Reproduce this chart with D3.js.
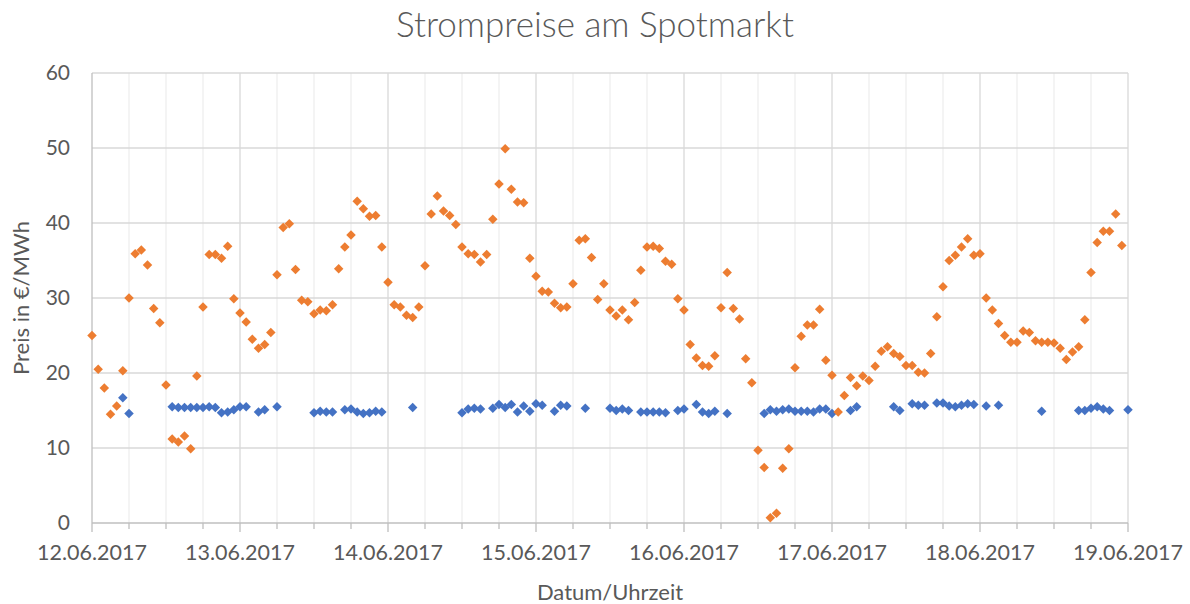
<!DOCTYPE html>
<html>
<head>
<meta charset="utf-8">
<script src="https://cdn.jsdelivr.net/npm/d3@7"></script>
<style>
  body { margin: 0; background: #fff; }
  text { font-family: Lato, "Open Sans", sans-serif; fill: #595959; }
</style>
</head>
<body>
<div id="chart"></div>
<script>
// hourly spot prices from 12.06.2017 00:00 (EUR/MWh)
const orangePrices = [
  25.0, 20.5, 18.0, 14.5, 15.6, 20.3, 30.0, 35.9, 36.4, 34.4, 28.6, 26.7,
  18.4, 11.2, 10.8, 11.6, 9.9, 19.6, 28.8, 35.8, 35.8, 35.3, 36.9, 29.9,
  28.0, 26.8, 24.5, 23.3, 23.8, 25.4, 33.1, 39.4, 39.9, 33.8, 29.7, 29.5,
  27.9, 28.4, 28.3, 29.1, 33.9, 36.8, 38.4, 42.9, 41.9, 40.9, 41.0, 36.8,
  32.1, 29.1, 28.8, 27.7, 27.4, 28.8, 34.3, 41.2, 43.6, 41.6, 41.0, 39.8,
  36.8, 35.9, 35.8, 34.8, 35.8, 40.5, 45.2, 49.9, 44.5, 42.8, 42.7, 35.3,
  32.9, 30.9, 30.8, 29.3, 28.7, 28.8, 31.9, 37.7, 37.9, 35.4, 29.8, 31.9,
  28.4, 27.6, 28.4, 27.1, 29.4, 33.7, 36.8, 36.9, 36.6, 34.9, 34.5, 29.9,
  28.4, 23.8, 22.0, 21.0, 20.9, 22.3, 28.7, 33.4, 28.6, 27.2, 21.9, 18.7,
  9.7, 7.4, 0.7, 1.3, 7.3, 9.9, 20.7, 24.9, 26.4, 26.4, 28.5, 21.7,
  19.7, 14.8, 17.0, 19.4, 18.3, 19.6, 19.0, 20.9, 22.9, 23.5, 22.6, 22.2,
  21.0, 21.0, 20.1, 20.0, 22.6, 27.5, 31.5, 35.0, 35.7, 36.8, 37.9, 35.7,
  35.9, 30.0, 28.4, 26.6, 25.0, 24.1, 24.1, 25.6, 25.4, 24.3, 24.1, 24.1,
  24.0, 23.3, 21.8, 22.8, 23.5, 27.1, 33.4, 37.4, 38.9, 38.9, 41.2, 37.0
];

// second series: only some hours have a value
const blueHours = [
  5, 6, 13, 14, 15, 16, 17, 18, 19, 20, 21, 22, 23, 24, 25, 27, 28, 30,
  36, 37, 38, 39, 41, 42, 43, 44, 45, 46, 47, 52, 60, 61, 62, 63, 65, 66,
  67, 68, 69, 70, 71, 72, 73, 75, 76, 77, 80, 84, 85, 86, 87, 89, 90, 91,
  92, 93, 95, 96, 98, 99, 100, 101, 103, 109, 110, 111, 112, 113, 114, 115,
  116, 117, 118, 119, 120, 123, 124, 130, 131, 133, 134, 135, 137, 138, 139, 140,
  141, 142, 143, 145, 147, 154, 160, 161, 162, 163, 164, 165, 168
];
const bluePrices = [
  16.7, 14.6, 15.5, 15.4, 15.4, 15.4, 15.4, 15.4, 15.5, 15.4, 14.7, 14.8, 15.1, 15.5, 15.5, 14.8, 15.1, 15.5,
  14.7, 14.9, 14.8, 14.8, 15.1, 15.2, 14.8, 14.6, 14.7, 14.9, 14.8, 15.4, 14.7, 15.2, 15.3, 15.2, 15.3, 15.8,
  15.4, 15.8, 14.8, 15.6, 14.9, 15.9, 15.7, 14.9, 15.7, 15.6, 15.3, 15.3, 15.0, 15.2, 15.0, 14.8, 14.8, 14.8,
  14.8, 14.7, 15.0, 15.2, 15.8, 14.8, 14.6, 14.9, 14.6, 14.6, 15.1, 14.9, 15.1, 15.2, 14.9, 14.9,
  14.9, 14.8, 15.2, 15.2, 14.6, 15.0, 15.5, 15.5, 15.0, 15.9, 15.7, 15.7, 16.0, 16.0, 15.6, 15.5,
  15.7, 15.9, 15.8, 15.6, 15.7, 14.9, 15.0, 15.0, 15.3, 15.5, 15.2, 15.0, 15.1
];

const dayLabels = ["12.06.2017", "13.06.2017", "14.06.2017", "15.06.2017",
                   "16.06.2017", "17.06.2017", "18.06.2017", "19.06.2017"];
const yTicks = [0, 10, 20, 30, 40, 50, 60];

const W = 1190, H = 604;
const margin = {top: 73, right: 62, bottom: 81, left: 92};
const start = Date.UTC(2017, 5, 12);

const svg = d3.select("#chart").append("svg")
  .attr("width", W).attr("height", H);

const x = d3.scaleUtc()
  .domain([new Date(start), d3.utcDay.offset(new Date(start), 7)])
  .range([margin.left, W - margin.right]);
const y = d3.scaleLinear()
  .domain([0, 60])
  .range([H - margin.bottom, margin.top]);

// gridlines
const sixHours = d3.utcHour.every(6).range(x.domain()[0], d3.utcHour.offset(x.domain()[1], 1));
svg.append("g").selectAll("line")
  .data(sixHours.filter(d => d.getUTCHours() != 0))
  .join("line")
  .attr("x1", d => x(d)).attr("x2", d => x(d))
  .attr("y1", y(60)).attr("y2", y(0))
  .attr("stroke", "#efefef").attr("stroke-width", 1.3);

svg.append("g").selectAll("line")
  .data(yTicks.slice(1))
  .join("line")
  .attr("x1", x.range()[0]).attr("x2", x.range()[1])
  .attr("y1", d => y(d)).attr("y2", d => y(d))
  .attr("stroke", "#d9d9d9").attr("stroke-width", 1.3);

const days = d3.utcDay.range(x.domain()[0], d3.utcDay.offset(x.domain()[1], 1));
svg.append("g").selectAll("line")
  .data(days.slice(1))
  .join("line")
  .attr("x1", d => x(d)).attr("x2", d => x(d))
  .attr("y1", y(60)).attr("y2", y(0))
  .attr("stroke", "#d9d9d9").attr("stroke-width", 1.3);

// axes lines and ticks
svg.append("line")
  .attr("x1", x.range()[0]).attr("x2", x.range()[0])
  .attr("y1", y(60)).attr("y2", y(0))
  .attr("stroke", "#bfbfbf").attr("stroke-width", 1.3);
svg.append("line")
  .attr("x1", x.range()[0]).attr("x2", x.range()[1])
  .attr("y1", y(0)).attr("y2", y(0))
  .attr("stroke", "#bfbfbf").attr("stroke-width", 1.3);
svg.append("g").selectAll("line")
  .data(sixHours)
  .join("line")
  .attr("x1", d => x(d)).attr("x2", d => x(d))
  .attr("y1", y(0)).attr("y2", d => y(0) + (d.getUTCHours() == 0 ? 9 : 6))
  .attr("stroke", "#bfbfbf").attr("stroke-width", 1.3);

// tick labels
svg.append("g").selectAll("text")
  .data(yTicks)
  .join("text")
  .attr("x", x.range()[0] - 22)
  .attr("y", d => y(d))
  .attr("dy", "0.35em")
  .attr("text-anchor", "end")
  .style("font-size", "21px")
  .text(d => d);

svg.append("g").selectAll("text")
  .data(days)
  .join("text")
  .attr("x", d => x(d))
  .attr("y", y(0) + 37)
  .attr("text-anchor", "middle")
  .style("font-size", "21.5px")
  .text((d, i) => dayLabels[i]);

// titles
svg.append("text")
  .attr("x", W / 2).attr("y", 37)
  .attr("text-anchor", "middle")
  .style("font-size", "35px")
  .style("font-weight", 300)
  .text("Strompreise am Spotmarkt");

svg.append("text")
  .attr("x", (x.range()[0] + x.range()[1]) / 2).attr("y", 600)
  .attr("text-anchor", "middle")
  .style("font-size", "22px")
  .text("Datum/Uhrzeit");

svg.append("text")
  .attr("transform", "translate(29," + ((y(0) + y(60)) / 2) + ") rotate(-90)")
  .attr("text-anchor", "middle")
  .style("font-size", "22px")
  .text("Preis in €/MWh");

// diamond markers
const diamond = {
  draw: function (context, size) {
    const r = Math.sqrt(size) / 2;
    context.moveTo(0, -r);
    context.lineTo(r, 0);
    context.lineTo(0, r);
    context.lineTo(-r, 0);
    context.closePath();
  }
};
const marker = d3.symbol().type(diamond).size(90);

const hourDate = h => d3.utcHour.offset(new Date(start), h);

svg.append("g").selectAll("path")
  .data(blueHours)
  .join("path")
  .attr("d", marker)
  .attr("transform", (h, i) => "translate(" + x(hourDate(h)) + "," + y(bluePrices[i]) + ")")
  .attr("fill", "#4472c4");

svg.append("g").selectAll("path")
  .data(orangePrices)
  .join("path")
  .attr("d", marker)
  .attr("transform", (v, i) => "translate(" + x(hourDate(i)) + "," + y(v) + ")")
  .attr("fill", "#ed7d31");
</script>
</body>
</html>
